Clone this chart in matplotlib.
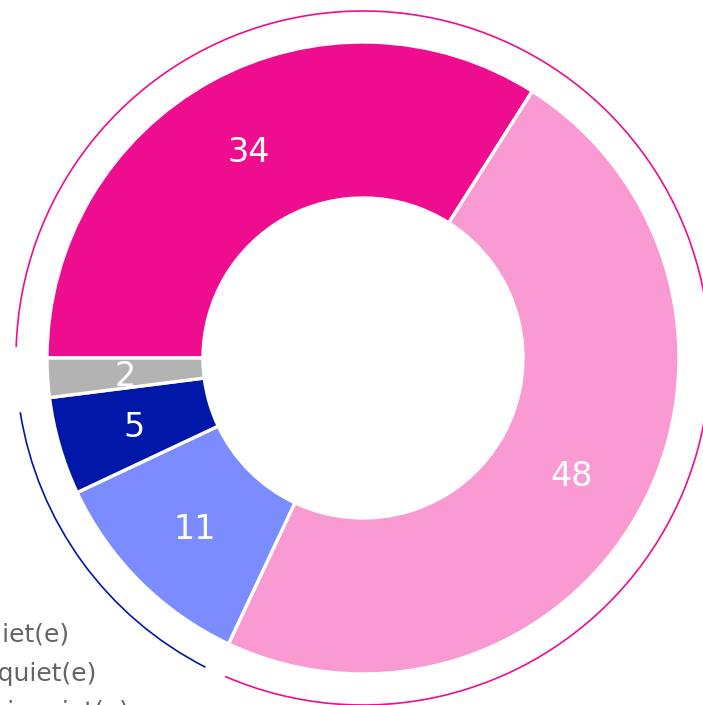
import numpy as np
import matplotlib.pyplot as plt
from matplotlib.patches import Arc

# data
values = [34, 48, 11, 5, 2]
colors = ['#ee0c8f', '#f99ad2', '#7b8cff', '#0017a8', '#b3b3b3']
legend_labels = ['Peu inquiet(e)', 'Plutôt inquiet(e)', 'Très peu inquiet(e)']

# outer arcs grouping slices: (first slice, last slice, colour)
groups = [(0, 1, '#ee0c8f'), (2, 3, '#0017a8')]

W, H = 703, 705
fig = plt.figure(figsize=(W / 100, H / 100), dpi=100)
ax = fig.add_axes([0, 0, 1, 1])

cx, cy = 363, H - 358
r_out, r_in = 316, 160
r_arc = 347

wedges, _ = ax.pie(values, colors=colors, startangle=180, counterclock=False,
                   center=(cx, cy), radius=r_out, frame=True,
                   wedgeprops=dict(width=r_out - r_in, edgecolor='white', linewidth=2.4))
ax.set_xlim(0, W)
ax.set_ylim(0, H)
ax.set_aspect('equal')
ax.axis('off')

r_lab = (r_out + r_in) / 2
for w, v in zip(wedges, values):
    mid = np.deg2rad((w.theta1 + w.theta2) / 2)
    ax.text(cx + r_lab * np.cos(mid), cy + r_lab * np.sin(mid), str(v),
            ha='center', va='center_baseline', color='white', fontsize=24,
            family='DejaVu Sans')

gap = 1.8
for i0, i1, col in groups:
    t_start = wedges[i1].theta1 + gap
    t_end = wedges[i0].theta2 - gap
    ax.add_patch(Arc((cx, cy), 2 * r_arc, 2 * r_arc, theta1=t_start, theta2=t_end,
                     color=col, linewidth=1.2))

# legend, cut off at the left edge as in the source
for k, lab in enumerate(legend_labels):
    ax.text(-106, H - 635 - 38 * k, lab, ha='left', va='center', color='#646464',
            fontsize=18, family='DejaVu Sans')

fig.savefig('out.png', dpi=100)
